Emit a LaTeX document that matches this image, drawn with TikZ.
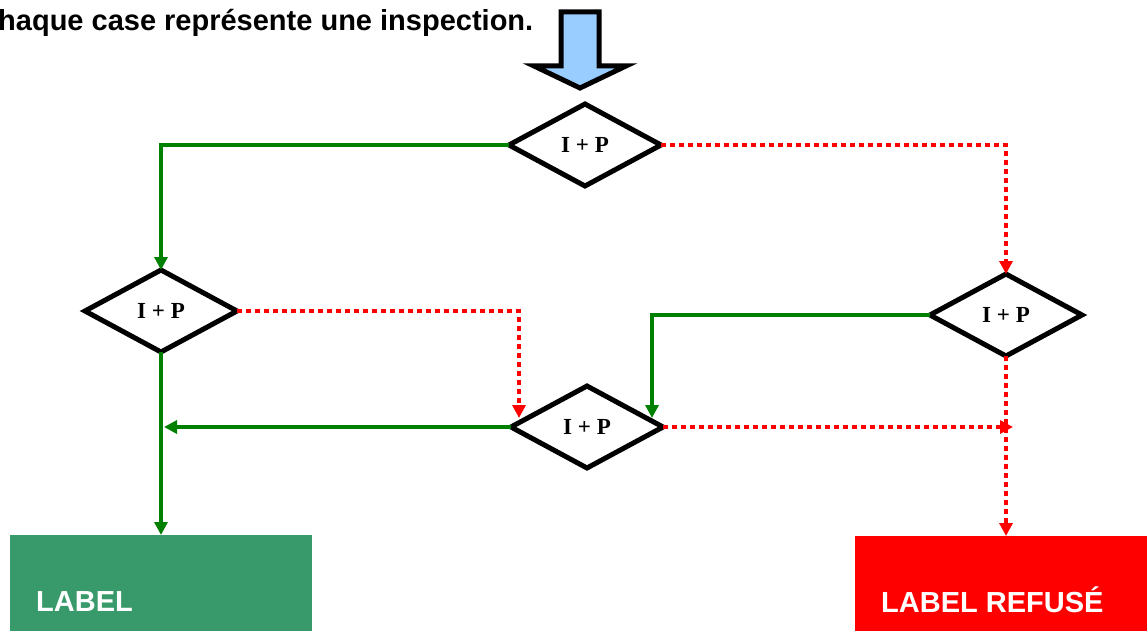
\documentclass[tikz,border=0pt]{standalone}
\usepackage{fontspec}
\setmainfont{Liberation Serif}
\newfontfamily\arialf{Liberation Sans}
\usetikzlibrary{shapes.geometric,arrows.meta}
\definecolor{okgreen}{HTML}{008000}
\definecolor{boxgreen}{HTML}{38996A}
\definecolor{nored}{HTML}{FF0000}
\definecolor{lightblue}{HTML}{99CCFF}
\tikzset{
  inspect/.style={diamond, draw=black, line width=5pt, fill=white, aspect=1.8,
    minimum width=152pt, minimum height=82pt, inner sep=0pt, outer sep=0pt,
    font=\bfseries\fontsize{23}{26}\selectfont},
  yes/.style={draw=okgreen, line width=4.5pt, -{Triangle[length=13pt,width=13pt]}},
  no/.style={draw=nored, line width=4.5pt, dash pattern=on 5pt off 4pt,
    -{Triangle[length=13pt,width=13pt]}},
  outlabel/.style={anchor=base west, text=white, inner sep=0pt,
    font=\arialf\bfseries\fontsize{29}{33}\selectfont},
}
\begin{document}
\begin{tikzpicture}[x=1pt,y=-1pt]
\useasboundingbox (0,0) rectangle (1147,631);
% title
\node[anchor=base west, inner sep=0pt, font=\arialf\bfseries\fontsize{29}{33}\selectfont]
  (title) at (-2,31) {haque case représente une inspection.};
% block arrow
\draw[line width=5pt, fill=lightblue, line join=miter]
  (561,12) -- (599,12) -- (599,66) -- (626,66) -- (580,88) -- (534,66) -- (561,66) -- cycle;
% diamonds
\node[inspect] (d1) at (585,145) {I + P};
\node[inspect] (d2) at (161,311) {I + P};
\node[inspect] (d3) at (587,427) {I + P};
\node[inspect] (d4) at (1006,315) {I + P};
% outcome boxes
\fill[boxgreen] (10,535) rectangle (312,631);
\node[outlabel] (acc) at (36,611) {LABEL};
\fill[nored] (855,536) rectangle (1147,631);
\node[outlabel] (ref) at (881,612) {LABEL REFUSÉ};
\coordinate (accTop) at (161,535);
\coordinate (refTop) at (1006,536);
\coordinate (d3in) at (519,418);
\coordinate (d3in2) at (652,418);
\coordinate (midL) at (164,427);
\coordinate (midR) at (1013,427);
% connectors
\draw[yes] (d1.west) -| (d2.north);
\draw[no] (d1.east) -| (d4.north);
\draw[no] (d2.east) -| (d3in);
\draw[yes] (d4.west) -| (d3in2);
\draw[yes] (d3.west) -- (midL);
\draw[no] (d3.east) -- (midR);
\draw[yes] (d2.south) -- (accTop);
\draw[no] (d4.south) -- (refTop);
\end{tikzpicture}
\end{document}
